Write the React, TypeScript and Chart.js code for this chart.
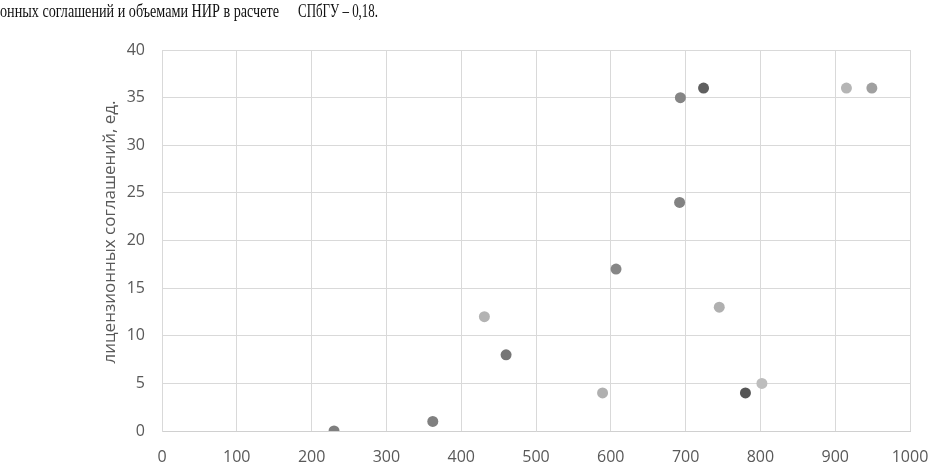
import React, { useEffect, useRef } from "react";
import { Chart, registerables } from "chart.js";

Chart.register(...registerables);

const xValues = [230, 362, 460, 431, 607, 692, 745, 693, 724, 915, 949, 589, 780, 802];
const yValues = [0, 1, 8, 12, 17, 24, 13, 35, 36, 36, 36, 4, 4, 5];
const pointColors = [
  "#7f7f7f", "#808080", "#767676", "#b3b3b3", "#868686", "#828282", "#b0b0b0",
  "#858585", "#5f5f5f", "#b5b5b5", "#a0a0a0", "#b0b0b0", "#555555", "#bdbdbd",
];
const yTitle = "лицензионных соглашений, ед.";
const captionLeft = "онных соглашений и объемами НИР в расчете";
const captionRight = "СПбГУ – 0,18.";

const textPlugin = {
  id: "extraText",
  afterDraw(chart: any) {
    const ctx = chart.ctx;
    ctx.save();
    ctx.fillStyle = "#111";
    ctx.font = "18px 'Liberation Serif'";
    ctx.textBaseline = "alphabetic";
    ctx.textAlign = "left";
    ctx.fillText(captionLeft, 0, 17, 279);
    ctx.fillText(captionRight, 298, 17, 80);
    ctx.translate(110, 232);
    ctx.rotate(-Math.PI / 2);
    ctx.fillStyle = "#595959";
    ctx.font = "17px 'Open Sans'";
    ctx.textAlign = "center";
    ctx.textBaseline = "middle";
    ctx.fillText(yTitle, 0, 0);
    ctx.restore();
  },
};

export default function App() {
  const ref = useRef<HTMLCanvasElement>(null);
  useEffect(() => {
    if (!ref.current) return;
    const data = xValues.map((x, i) => ({ x, y: yValues[i] }));
    const chart = new Chart(ref.current, {
      type: "scatter",
      data: {
        datasets: [
          {
            data,
            backgroundColor: pointColors,
            borderWidth: 0,
            pointRadius: 5.5,
          },
        ],
      },
      options: {
        animation: false,
        responsive: false,
        layout: { padding: { top: 50, right: 20, left: 0, bottom: 0 } },
        plugins: { legend: { display: false }, tooltip: { enabled: false } },
        scales: {
          x: {
            type: "linear",
            min: 0,
            max: 1000,
            afterFit: (s: any) => {
              s.height = 31;
              s.paddingLeft = 0;
              s.paddingRight = 0;
            },
            ticks: {
              stepSize: 100,
              padding: 17,
              color: "#595959",
              font: { family: "'Open Sans'", size: 16 },
              callback: (v: any) => String(v),
            },
            grid: { color: "#d9d9d9", lineWidth: 1, drawTicks: false },
            border: { color: "#d0d0d0" },
          },
          y: {
            type: "linear",
            min: 0,
            max: 40,
            afterFit: (s: any) => {
              s.width = 162;
              s.paddingTop = 0;
              s.paddingBottom = 0;
            },
            ticks: {
              stepSize: 5,
              padding: 17,
              color: "#595959",
              font: { family: "'Open Sans'", size: 16 },
              callback: (v: any) => String(v),
            },
            grid: { color: "#d9d9d9", lineWidth: 1, drawTicks: false },
            border: { color: "#d9d9d9" },
          },
        },
      },
      plugins: [textPlugin],
    });
    return () => chart.destroy();
  }, []);
  return (
    <div style={{ position: "absolute", left: 0, top: 0, width: 930, height: 462, background: "#fff" }}>
      <canvas ref={ref} width={930} height={462} style={{ display: "block" }} />
    </div>
  );
}
